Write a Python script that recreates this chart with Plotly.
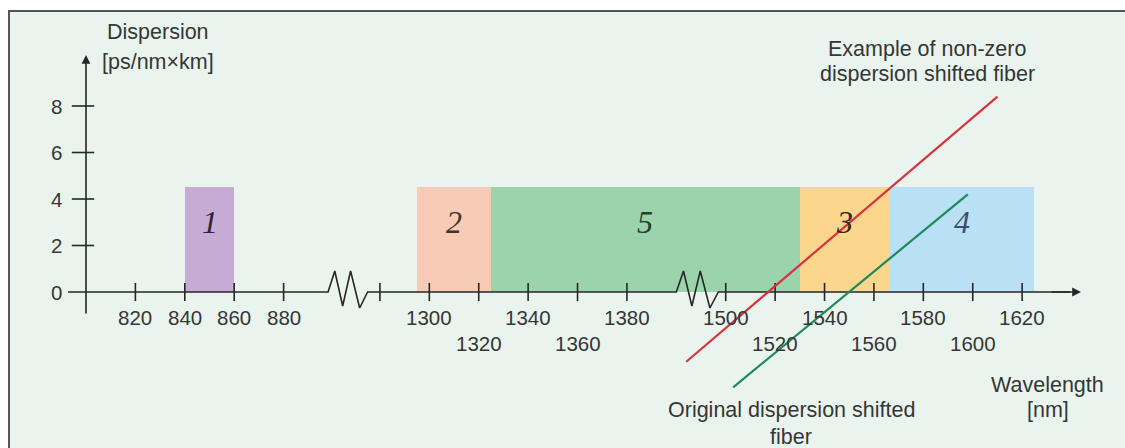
import plotly.graph_objects as go

# ---------------------------------------------------------------------------
# Data
# ---------------------------------------------------------------------------
# Transmission windows: wavelength span (nm) and drawn dispersion height
band_labels = ["1", "2", "5", "3", "4"]
band_start_nm = [840, 1295, 1325, 1530, 1566]
band_end_nm = [860, 1325, 1530, 1566, 1625]
band_height = [4.5, 4.5, 4.5, 4.5, 4.5]
band_label_level = 3.0

# Dispersion curves, wavelength (nm) vs dispersion (ps/nm×km)
nzdsf_nm = [1484, 1610]
nzdsf_disp = [-3.0, 8.4]
dsf_nm = [1503, 1598]
dsf_disp = [-4.1, 4.2]

# Wavelength axis ticks (row 0 = upper label line, row 1 = lower label line)
x_ticks_nm = [820, 840, 860, 880, 1280, 1300, 1320, 1340, 1360, 1380,
              1500, 1520, 1540, 1560, 1580, 1600, 1620]
x_tick_text = ["820", "840", "860", "880", "", "1300", "1320", "1340", "1360", "1380",
               "1500", "1520", "1540", "1560", "1580", "1600", "1620"]
x_tick_row = [0, 0, 0, 0, 0, 0, 1, 0, 1, 0, 0, 1, 0, 1, 0, 1, 0]

# Dispersion axis ticks
y_ticks = [0, 2, 4, 6, 8]
y_tick_text = ["0", "2", "4", "6", "8"]

# ---------------------------------------------------------------------------
# Styling
# ---------------------------------------------------------------------------
W, H = 1125, 448
PX_PER_NM = 2.47
PX_PER_UNIT = 23.25
ORIGIN_PX = (86, 292)          # where the two axes cross
FONT = "Liberation Sans, Arial, sans-serif"
SERIF = "Liberation Serif, Times New Roman, serif"
TEXT_COLOR = "#363636"
AXIS_COLOR = "#262626"
BG = "#eaf4ee"
TICK_SIZE = 20.5
CAPTION_SIZE = 21.5

band_colors = ["#c6abd4", "#f8cbb6", "#9bd3ad", "#fbd68c", "#b9e0f4"]
band_text_colors = ["#2e2438", "#4a3028", "#26402f", "#3a2519", "#3c4d6e"]

# Broken wavelength axis: (lower bound of piece in nm, shift applied on the drawn axis)
AXIS_PIECES = [(0, 0), (1100, 361), (1440, 441)]
# Visible limits of the pieces on either side of each break
BREAKS = [(898, 1275), (1400, 1497)]


def axis_pos(nm):
    shift = 0
    for lower, s in AXIS_PIECES:
        if nm >= lower:
            shift = s
    return nm - shift


def px_to_x(px):
    return 800 + (px - ORIGIN_PX[0]) / PX_PER_NM


def px_to_y(py):
    return (ORIGIN_PX[1] - py) / PX_PER_UNIT


fig = go.Figure()

# Frame of the drawing
fig.add_shape(type="rect", xref="paper", yref="paper",
              x0=9 / W, x1=1.02, y0=-0.05, y1=1 - 11 / H,
              fillcolor=BG, line=dict(color="#555555", width=2), layer="below")

# Wavelength windows as bars on the broken axis
centers, widths = [], []
for s, e in zip(band_start_nm, band_end_nm):
    a, b = axis_pos(s), axis_pos(e)
    centers.append((a + b) / 2)
    widths.append(b - a)
fig.add_trace(go.Bar(x=centers, y=band_height, width=widths, base=0,
                     marker=dict(color=band_colors, line=dict(width=0)),
                     hoverinfo="skip", showlegend=False))

# Wavelength axis line with break symbols
zig_t = [0, 0.17, 0.37, 0.57, 0.8, 1.0]
zig_dy = [0, 21, -14, 21, -16, 0]
ax_x = [px_to_x(68)]
ax_y = [0]
for left_nm, right_nm in BREAKS:
    a, b = axis_pos(left_nm), axis_pos(right_nm)
    for t, dy in zip(zig_t, zig_dy):
        ax_x.append(a + t * (b - a))
        ax_y.append(dy / PX_PER_UNIT)
ax_x.append(px_to_x(1070))
ax_y.append(0)
fig.add_trace(go.Scatter(x=ax_x, y=ax_y, mode="lines",
                         line=dict(color=AXIS_COLOR, width=1.6),
                         hoverinfo="skip", showlegend=False))

# Tick marks crossing the wavelength axis
fig.add_trace(go.Scatter(x=[axis_pos(v) for v in x_ticks_nm], y=[0] * len(x_ticks_nm),
                         mode="markers",
                         marker=dict(symbol="line-ns", size=13,
                                     line=dict(color=AXIS_COLOR, width=1.6)),
                         hoverinfo="skip", showlegend=False))

# Tick marks on the dispersion axis
fig.add_trace(go.Scatter(x=[px_to_x(83)] * (len(y_ticks) - 1), y=y_ticks[1:],
                         mode="markers",
                         marker=dict(symbol="line-ew", size=16,
                                     line=dict(color=AXIS_COLOR, width=1.6)),
                         hoverinfo="skip", showlegend=False))

# Dispersion curves
fig.add_trace(go.Scatter(x=[axis_pos(v) for v in nzdsf_nm], y=nzdsf_disp, mode="lines",
                         line=dict(color="#d8323f", width=2.2),
                         hoverinfo="skip", showlegend=False))
fig.add_trace(go.Scatter(x=[axis_pos(v) for v in dsf_nm], y=dsf_disp, mode="lines",
                         line=dict(color="#1d8a5b", width=2.2),
                         hoverinfo="skip", showlegend=False))

# Window numbers
for lbl, c, col in zip(band_labels, centers, band_text_colors):
    fig.add_annotation(x=c, y=band_label_level, text=f"<i>{lbl}</i>", showarrow=False,
                       font=dict(family=SERIF, size=32, color=col),
                       xanchor="center", yanchor="middle")

# Axis arrows
fig.add_annotation(x=800, y=px_to_y(55), ax=800, ay=px_to_y(315),
                   xref="x", yref="y", axref="x", ayref="y", text="",
                   showarrow=True, arrowhead=2, arrowsize=1.1, arrowwidth=1.6,
                   arrowcolor=AXIS_COLOR, standoff=0)
fig.add_annotation(x=px_to_x(1081), y=0, ax=px_to_x(1050), ay=0,
                   xref="x", yref="y", axref="x", ayref="y", text="",
                   showarrow=True, arrowhead=2, arrowsize=1.1, arrowwidth=1.6,
                   arrowcolor=AXIS_COLOR, standoff=0)

# Tick labels
for v, txt, row in zip(x_ticks_nm, x_tick_text, x_tick_row):
    if not txt:
        continue
    fig.add_annotation(x=axis_pos(v), y=0, yshift=-25 - 26 * row, text=txt,
                       showarrow=False, xanchor="center", yanchor="middle",
                       font=dict(family=FONT, size=TICK_SIZE, color=TEXT_COLOR))
for v, txt in zip(y_ticks, y_tick_text):
    fig.add_annotation(x=800, y=v, xshift=-30, text=txt, showarrow=False,
                       xanchor="center", yanchor="middle",
                       font=dict(family=FONT, size=TICK_SIZE, color=TEXT_COLOR))

# Axis titles and curve captions
captions = [
    ("Dispersion", 158, 32),
    ("[ps/nm×km]", 158, 62),
    ("Example of non-zero", 927, 49),
    ("dispersion shifted fiber", 927, 74),
    ("Wavelength", 1047, 385),
    ("[nm]", 1048, 410),
    ("Original dispersion shifted", 791, 410),
    ("fiber", 791, 437),
]
for txt, px, py in captions:
    fig.add_annotation(x=px / W, y=1 - py / H, xref="paper", yref="paper", text=txt,
                       showarrow=False, xanchor="center", yanchor="middle",
                       font=dict(family=FONT, size=CAPTION_SIZE, color=TEXT_COLOR))

fig.update_layout(
    width=W, height=H,
    margin=dict(l=0, r=0, t=0, b=0, pad=0),
    paper_bgcolor="white",
    plot_bgcolor="rgba(0,0,0,0)",
    bargap=0,
    xaxis=dict(range=[px_to_x(0), px_to_x(W)], visible=False, fixedrange=True),
    yaxis=dict(range=[px_to_y(H), px_to_y(0)], visible=False, fixedrange=True),
)

fig.write_html("out.html")
